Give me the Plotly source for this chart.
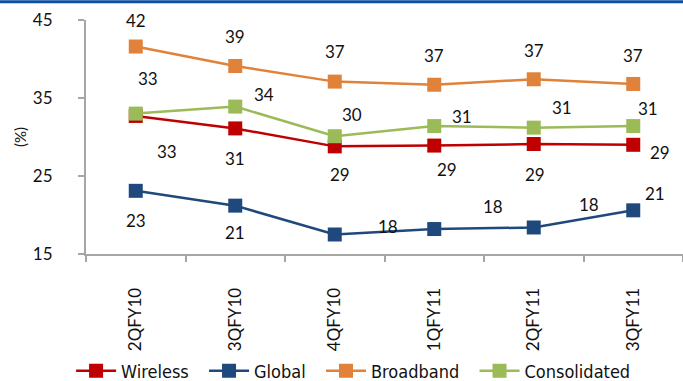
import plotly.graph_objects as go

quarters = ["2QFY10", "3QFY10", "4QFY10", "1QFY11", "2QFY11", "3QFY11"]

wireless = [32.7, 31.1, 28.8, 28.9, 29.1, 29.0]
global_ = [23.1, 21.2, 17.5, 18.2, 18.4, 20.6]
broadband = [41.6, 39.1, 37.1, 36.7, 37.4, 36.8]
consolidated = [33.0, 33.9, 30.1, 31.4, 31.2, 31.4]

series_names = ["Wireless", "Global", "Broadband", "Consolidated"]
series_values = [wireless, global_, broadband, consolidated]
series_colors = ["#C00000", "#1F497D", "#E0823A", "#9BBB59"]

# label offsets (pixels right, pixels up) relative to each marker
label_offsets = {
    "Wireless": [(31, -36), (0, -30), (5, -28), (13, -24), (1, -30), (27, -8)],
    "Global": [(0, -30), (0, -27), (53, 8), (59, 23), (55, 23), (22, 17)],
    "Broadband": [(0, 26), (0, 30), (0, 30), (0, 29), (0, 29), (0, 28)],
    "Consolidated": [(12, 35), (29, 12), (17, 22), (28, 10), (28, 20), (15, 18)],
}

LABEL_FONT = "Lato, 'Century Gothic', sans-serif"
LEGEND_FONT = "'Liberation Sans Narrow', 'DejaVu Sans Condensed', Lato, sans-serif"
# extra room after each legend entry
ENTRY_PAD = "\u00a0" * 2

fig = go.Figure()
annotations = []
for name, vals, color in zip(series_names, series_values, series_colors):
    fig.add_trace(go.Scatter(
        x=quarters, y=vals, name=name + ENTRY_PAD, mode="lines+markers",
        line=dict(color=color, width=2.5),
        marker=dict(symbol="square", size=14, color=color),
        hoverinfo="skip",
    ))
    for q, v, (dx, dy) in zip(quarters, vals, label_offsets[name]):
        annotations.append(dict(
            x=q, y=v, xref="x", yref="y", text=f"{v:.0f}", showarrow=False,
            xshift=dx, yshift=dy, font=dict(family=LABEL_FONT, size=17, color="#111111"),
        ))

fig.update_layout(
    width=683, height=381,
    margin=dict(l=86, r=0, t=20, b=127, autoexpand=False),
    paper_bgcolor="white", plot_bgcolor="white",
    annotations=annotations,
    showlegend=True,
    legend=dict(
        orientation="h", xref="container", yref="container",
        x=0.525, xanchor="center", y=0.026, yanchor="middle",
        bgcolor="rgba(0,0,0,0)",
        font=dict(family=LEGEND_FONT, size=18, color="#111111"),
        itemwidth=40, tracegroupgap=0,
    ),
    shapes=[dict(
        type="line", xref="paper", yref="paper",
        x0=-0.2, x1=1.05, y0=1.078, y1=1.078,
        line=dict(color="#0B4EA2", width=3),
    )],
)

fig.update_xaxes(
    type="category", range=[-0.5, 5.5], automargin=False,
    showline=True, linecolor="#A6A6A6", linewidth=2,
    ticks="outside", tickson="boundaries", ticklen=6, tickcolor="#A6A6A6", tickwidth=2,
    tickangle=-90, ticklabelstandoff=25,
    tickfont=dict(family=LABEL_FONT, size=17, color="#111111"),
    showgrid=False, zeroline=False, fixedrange=True,
)
fig.update_yaxes(
    range=[15, 45], tickvals=[15, 25, 35, 45], automargin=False,
    showline=True, linecolor="#A6A6A6", linewidth=2,
    ticks="outside", ticklen=6, tickcolor="#A6A6A6", tickwidth=2,
    ticklabelstandoff=22,
    tickfont=dict(family=LABEL_FONT, size=17, color="#111111"),
    title=dict(text="(%)", font=dict(family=LABEL_FONT, size=15, color="#111111"), standoff=3),
    showgrid=False, zeroline=False, fixedrange=True,
)

fig.write_html("out.html")
